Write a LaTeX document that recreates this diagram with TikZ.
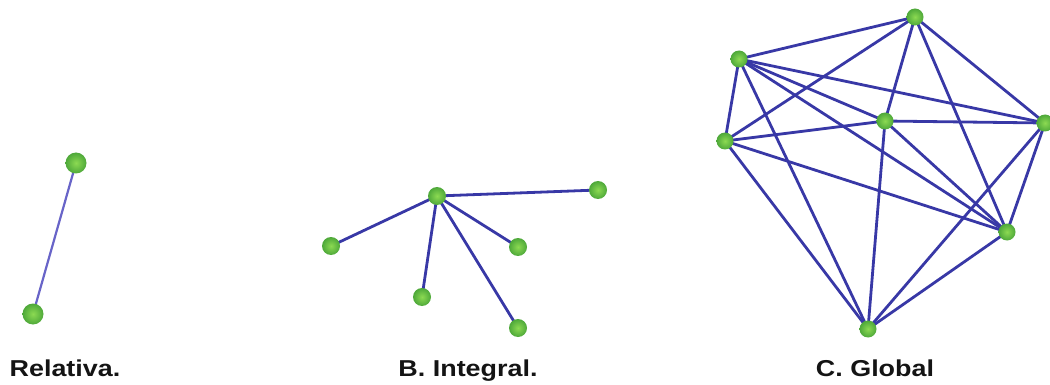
\documentclass[tikz,border=0pt]{standalone}
\usepackage{fontspec}
\setmainfont{Liberation Sans}
\usepackage{graphicx}
\pgfdeclarelayer{edges}
\pgfsetlayers{edges,main}
\definecolor{edgeblue}{RGB}{56,56,166}
\definecolor{edgelight}{RGB}{104,100,200}
\definecolor{ballin}{RGB}{140,218,82}
\definecolor{ballout}{RGB}{78,168,58}
\definecolor{labelink}{RGB}{20,20,20}
\tikzset{
  vertex/.style={circle, inner sep=0pt, minimum size=#1, shading=radial,
    inner color=ballin, outer color=ballout},
  vertex/.default=17pt,
  link/.style={draw=edgeblue, line width=2.8pt},
  linklight/.style={draw=edgelight, line width=2.2pt},
  caption/.style={anchor=base, text=labelink,
    font=\bfseries\fontsize{23}{23}\selectfont}
}
\begin{document}
\begin{tikzpicture}[x=1pt, y=-1pt]
\useasboundingbox (0,0) rectangle (1050,385);

% Relativa: two vertices
\node[vertex=21pt] (a1) at (76,163) {};
\node[vertex=21pt] (a2) at (33,314) {};

% Integral: star around a hub
\node[vertex=18pt] (b0) at (437,196) {};
\node[vertex=18pt] (b1) at (598,190) {};
\node[vertex=18pt] (b2) at (331,246) {};
\node[vertex=18pt] (b3) at (518,247) {};
\node[vertex=18pt] (b4) at (422,297) {};
\node[vertex=18pt] (b5) at (518,328) {};

% Global: dense graph
\node[vertex] (ct) at (915,17) {};
\node[vertex] (cu) at (739,59) {};
\node[vertex] (cl) at (725,141) {};
\node[vertex] (cc) at (885,121) {};
\node[vertex] (cr) at (1045,123) {};
\node[vertex] (cq) at (1007,232) {};
\node[vertex] (cb) at (868,329) {};

\begin{pgfonlayer}{edges}
\draw[linklight] (a1.center) -- (a2.center);
\foreach \v in {b1,b2,b3,b4,b5}
  \draw[link] (b0.center) -- (\v.center);
\foreach \p/\q in {cu/ct, cu/cl, cu/cc, cu/cr, cu/cq, cu/cb,
                   cl/ct, cl/cc, cl/cq, cl/cb,
                   ct/cc, ct/cq, ct/cr,
                   cc/cr, cc/cq, cc/cb,
                   cr/cq, cr/cb, cq/cb}
  \draw[link] (\p.center) -- (\q.center);
\end{pgfonlayer}

\node[caption] (la) at (65,376) {\scalebox{1.17}[1]{Relativa.}};
\node[caption] (lb) at (468,376) {\scalebox{1.17}[1]{B. Integral.}};
\node[caption] (lc) at (875,376) {\scalebox{1.17}[1]{C. Global}};
\end{tikzpicture}
\end{document}
